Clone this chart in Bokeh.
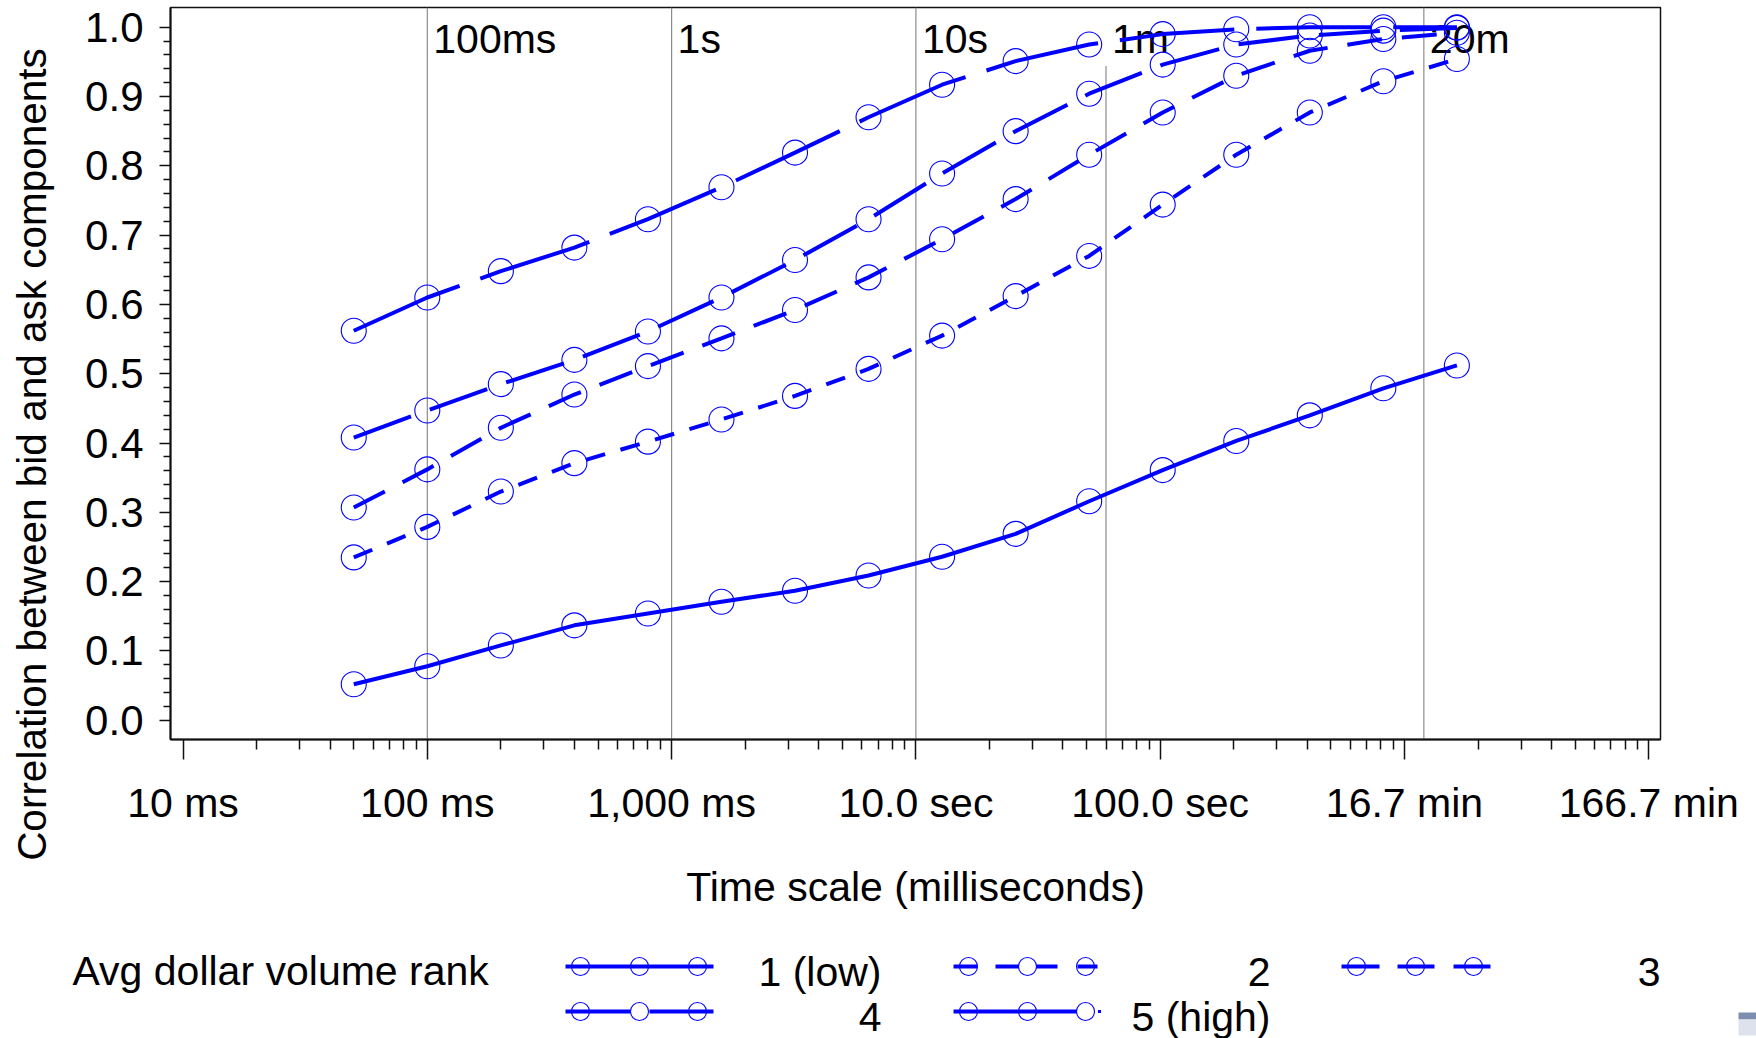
import math

from bokeh.core.properties import value
from bokeh.embed import file_html
from bokeh.layouts import column, row
from bokeh.models import (CustomJSTickFormatter, FixedTicker,
                          PrintfTickFormatter, Range1d)
from bokeh.plotting import figure
from bokeh.resources import INLINE

# ---------------------------------------------------------------------------
# Data: correlation between bid and ask components by time scale,
# one series per average-dollar-volume rank
# ---------------------------------------------------------------------------
time_scale_ms = [50, 100, 200, 400, 800, 1600, 3200, 6400, 12800, 25600,
                 51200, 102400, 204800, 409600, 819200, 1638400]

rank_names = ["1 (low)", "2", "3", "4", "5 (high)"]

corr_rank1 = [0.052, 0.078, 0.108, 0.137, 0.154, 0.171, 0.187, 0.209, 0.236,
              0.269, 0.316, 0.361, 0.403, 0.440, 0.479, 0.512]
corr_rank2 = [0.235, 0.279, 0.330, 0.371, 0.402, 0.434, 0.468, 0.507, 0.555,
              0.612, 0.670, 0.744, 0.816, 0.877, 0.922, 0.954]
corr_rank3 = [0.307, 0.362, 0.422, 0.470, 0.511, 0.551, 0.592, 0.639, 0.694,
              0.752, 0.816, 0.877, 0.930, 0.966, 0.983, 0.992]
corr_rank4 = [0.408, 0.447, 0.485, 0.520, 0.561, 0.610, 0.664, 0.723, 0.789,
              0.850, 0.904, 0.946, 0.975, 0.988, 0.995, 0.999]
corr_rank5 = [0.562, 0.610, 0.648, 0.682, 0.723, 0.769, 0.819, 0.870, 0.917,
              0.951, 0.975, 0.990, 0.997, 1.000, 1.000, 1.000]

x_tick_values = [10, 100, 1000, 10000, 100000, 1000000, 10000000]
x_tick_labels = ["10 ms", "100 ms", "1,000 ms", "10.0 sec", "100.0 sec",
                 "16.7 min", "166.7 min"]
y_tick_values = [0.0, 0.1, 0.2, 0.3, 0.4, 0.5, 0.6, 0.7, 0.8, 0.9, 1.0]

# reference time scales marked with vertical lines
ref_times_ms = [100, 1000, 10000, 60000, 1200000]
ref_labels = ["100ms", "1s", "10s", "1m", "20m"]

y_title = "Correlation between bid and ask components"
x_title = "Time scale (milliseconds)"
legend_title = "Avg dollar volume rank"

# ---------------------------------------------------------------------------
# Styling
# ---------------------------------------------------------------------------
FONT_NAME = "Liberation Sans"
FONT = value(FONT_NAME)
BLUE = "#0000ff"
series = [corr_rank1, corr_rank2, corr_rank3, corr_rank4, corr_rank5]
dashes = ["solid", "20 16", "35 20", "61 20", "115 22"]

X_START, X_END = 10 ** 0.9488, 10 ** 7.0479
Y_START, Y_END = -0.0277, 1.0284

TITLE_W = 70          # strip holding the rotated y title
PAGE_W, PAGE_H = 1756, 1038
MAIN_H = 940


def no_align(fig):
    if "frame_align" in fig.properties():
        fig.frame_align = False


# ---------------------------------------------------------------------------
# Main chart
# ---------------------------------------------------------------------------
p = figure(frame_width=1490, frame_height=732, x_axis_type="log",
           x_range=Range1d(X_START, X_END), y_range=Range1d(Y_START, Y_END),
           output_backend="svg", toolbar_location=None,
           min_border_left=100, min_border_right=96,
           min_border_top=7, min_border_bottom=201)
no_align(p)
p.grid.visible = False
p.outline_line_color = "#111111"
p.outline_line_width = 1.5

# x axis: log scale with time-unit labels
p.xaxis.ticker = FixedTicker(
    ticks=x_tick_values,
    minor_ticks=[m * 10 ** k for k in range(1, 7) for m in range(2, 10)])
p.xaxis.formatter = CustomJSTickFormatter(
    args=dict(labels=x_tick_labels),
    code="return labels[Math.round(Math.log10(tick)) - 1];")
p.xaxis.axis_label = x_title

# y axis
p.yaxis.ticker = FixedTicker(
    ticks=y_tick_values,
    minor_ticks=[round(i * 0.02, 2) for i in range(1, 50) if i % 5])
p.yaxis.formatter = PrintfTickFormatter(format="%.1f")

for ax in (p.xaxis[0], p.yaxis[0]):
    ax.axis_line_color = "#111111"
    ax.axis_line_width = 2
    ax.major_tick_line_color = "#111111"
    ax.minor_tick_line_color = "#111111"
    ax.major_tick_line_width = 1.5
    ax.minor_tick_line_width = 1.5
    ax.major_tick_in = 0
    ax.minor_tick_in = 0
    ax.major_label_text_font = FONT_NAME
    ax.major_label_text_font_size = "41px"
    ax.major_label_text_color = "black"
    ax.axis_label_text_font = FONT_NAME
    ax.axis_label_text_font_size = "41px"
    ax.axis_label_text_font_style = "normal"
    ax.axis_label_text_color = "black"

p.yaxis.major_label_text_font_size = "42px"
p.xaxis.major_tick_out = 20
p.xaxis.minor_tick_out = 10
p.xaxis.major_label_standoff = 20
p.xaxis.axis_label_standoff = 35
p.yaxis.major_tick_out = 11
p.yaxis.minor_tick_out = 7
p.yaxis.major_label_standoff = 16

# vertical reference lines and their labels
ref_tops = [Y_END, Y_END, Y_END, 0.944, Y_END]
p.segment(x0=ref_times_ms, y0=[Y_START] * len(ref_times_ms),
          x1=ref_times_ms, y1=ref_tops, line_color="#8c8c8c", line_width=1.2)
p.text(x=ref_times_ms, y=[0.983] * len(ref_times_ms), text=ref_labels,
       x_offset=6, text_font=FONT, text_font_size="41px",
       text_baseline="middle", text_align="left", text_color="black")

# series
for vals, dash in zip(series, dashes):
    p.line(time_scale_ms, vals, line_color=BLUE, line_width=4, line_dash=dash)
    p.scatter(time_scale_ms, vals, marker="circle", size=25,
              fill_color=None, line_color=BLUE, line_width=1.1)

# ---------------------------------------------------------------------------
# Left strip with the rotated y title (page-pixel coordinates)
# ---------------------------------------------------------------------------
yt = figure(frame_width=TITLE_W, frame_height=PAGE_H,
            x_range=Range1d(0, TITLE_W), y_range=Range1d(PAGE_H, 0),
            output_backend="svg", toolbar_location=None, min_border=0,
            x_axis_location=None, y_axis_location=None)
no_align(yt)
yt.grid.visible = False
yt.outline_line_color = None
yt.text(x=[31], y=[454], text=[y_title], angle=math.pi / 2,
        text_font=FONT, text_font_size="40.5px", text_align="center",
        text_baseline="middle", text_color="black")

# ---------------------------------------------------------------------------
# Legend strip (page-pixel coordinates)
# ---------------------------------------------------------------------------
leg = figure(frame_width=PAGE_W - TITLE_W, frame_height=PAGE_H - MAIN_H,
             x_range=Range1d(TITLE_W, PAGE_W), y_range=Range1d(PAGE_H, MAIN_H),
             output_backend="svg", toolbar_location=None, min_border=0,
             x_axis_location=None, y_axis_location=None)
no_align(leg)
leg.grid.visible = False
leg.outline_line_color = None

leg.text(x=[72], y=[970], text=[legend_title], text_font=FONT,
         text_font_size="41px", text_baseline="middle", text_align="left",
         text_color="black")

# sample start x, row y, label right edge, line pieces, white-filled marker
entries = [
    (565, 966, 881, [(0, 148)], None),
    (953, 966, 1270, [(0, 24), (42, 104), (124, 144)], 1),
    (1341, 966, 1660, [(0, 38), (56, 93), (112, 149)], None),
    (565, 1011, 881, [(0, 65), (84, 148)], 1),
    (953, 1011, 1270, [(0, 125)], 2),
]
marker_offsets = [15, 74, 132]
for (x0, y, xr, pieces, white), name in zip(entries, rank_names):
    leg.segment(x0=[x0 + a for a, b in pieces], y0=[y] * len(pieces),
                x1=[x0 + b for a, b in pieces], y1=[y] * len(pieces),
                line_color=BLUE, line_width=4)
    fills = ["white" if i == white else None for i in range(3)]
    leg.scatter(x=[x0 + o for o in marker_offsets], y=[y] * 3, marker="circle",
                size=18, fill_color=fills, line_color=BLUE, line_width=1.1)
    leg.text(x=[xr], y=[y + 5], text=[name],
             text_font=FONT, text_font_size="41px", text_align="right",
             text_baseline="middle", text_color="black")
# trailing dot of the last sample
leg.scatter(x=[953 + 146], y=[1011], marker="square", size=3,
            fill_color=BLUE, line_color=None)

# small slide-edge bar in the bottom-right corner
leg.quad(left=[1738], right=[1756], top=[1012], bottom=[1019],
         fill_color="#7d8db0", line_color=None)
leg.quad(left=[1738], right=[1756], top=[1019], bottom=[1035],
         fill_color="#dde2ec", line_color=None)

layout = row(yt, column(p, leg, spacing=0), spacing=0)
open("out.html", "w").write(file_html(layout, INLINE))
